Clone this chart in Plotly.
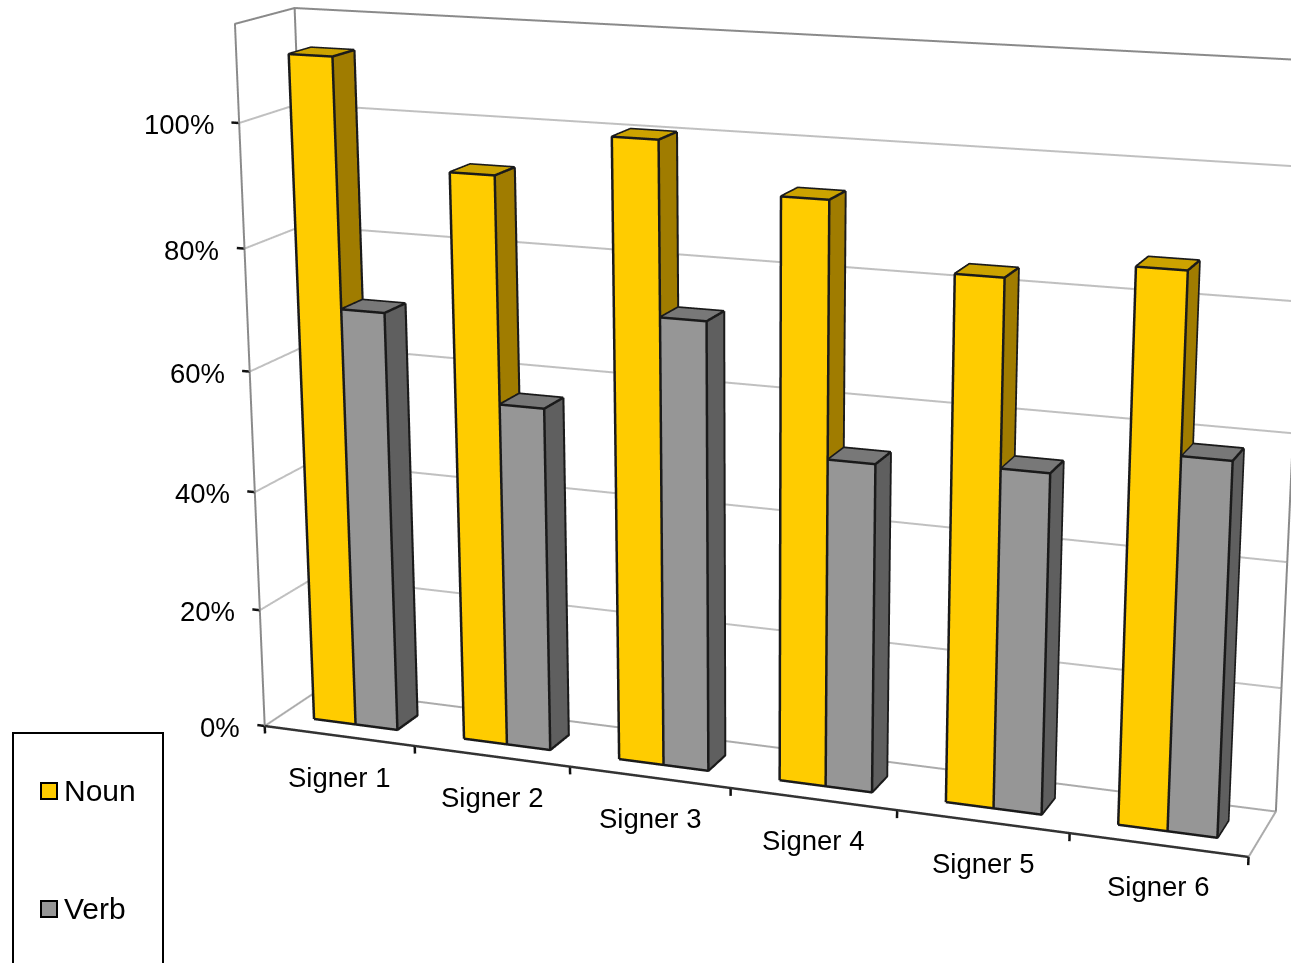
import numpy as np
import plotly.graph_objects as go

categories = ["Signer 1", "Signer 2", "Signer 3", "Signer 4", "Signer 5", "Signer 6"]
noun_values = [110.3, 93.3, 100.5, 93.1, 83.3, 86.4]
verb_values = [70, 56.8, 73, 53, 54.2, 58.7]
pct_ticks = [0, 20, 40, 60, 80, 100]
pct_top = 115.5

W, H = 1291, 963
EYE_DIST = 1.5

# Scene position of (category, depth, pct / 100, 1); the rows give x, y and z.
SCENE_BASIS = np.array([
    [0.2109925, 0.0616033, -0.007384, -0.5220627],
    [-0.0266229, 0.0514349, -0.0790958, 0.0936992],
    [-0.0213193, 0.0414221, 0.8023255, -0.3352427],
])


def to_scene(u, v, w, lift=0.0):
    p = SCENE_BASIS @ np.array([u, v, w / 100, 1.0])
    if lift:
        # Slide along the view ray so outlines stay in front of their faces.
        eye = np.array([0, -EYE_DIST, 0])
        p = eye + (p - eye) * (1 - lift)
    return p


def line_trace(segments, color, width, lift=0.0):
    xs, ys, zs = [], [], []
    for seg in segments:
        for pt in seg:
            p = to_scene(*pt, lift=lift)
            xs.append(p[0]); ys.append(p[1]); zs.append(p[2])
        xs.append(None); ys.append(None); zs.append(None)
    return go.Scatter3d(x=xs, y=ys, z=zs, mode="lines", line=dict(color=color, width=width),
                        hoverinfo="skip", showlegend=False)


def bar_trace(u0, u1, v0, v1, top, colors):
    corners = [(u0, v0, 0), (u1, v0, 0), (u1, v0, top), (u0, v0, top),
               (u0, v1, 0), (u1, v1, 0), (u1, v1, top), (u0, v1, top)]
    pts = np.array([to_scene(*c) for c in corners])
    tris = [(0, 1, 2), (0, 2, 3), (3, 2, 6), (3, 6, 7), (1, 5, 6), (1, 6, 2)]
    return go.Mesh3d(x=pts[:, 0], y=pts[:, 1], z=pts[:, 2],
                     i=[t[0] for t in tris], j=[t[1] for t in tris], k=[t[2] for t in tris],
                     facecolor=[colors[0]] * 2 + [colors[1]] * 2 + [colors[2]] * 2, flatshading=True,
                     lighting=dict(ambient=1, diffuse=0, specular=0, fresnel=0, roughness=1),
                     hoverinfo="skip", showlegend=False)


def bar_edges(u0, u1, v0, v1, top):
    return [
        [(u0, v0, 0), (u1, v0, 0), (u1, v0, top), (u0, v0, top), (u0, v0, 0)],
        [(u0, v0, top), (u0, v1, top), (u1, v1, top), (u1, v0, top)],
        [(u1, v0, 0), (u1, v1, 0), (u1, v1, top)],
    ]


NOUN = ("#FFCC00", "#CCA300", "#A07C00")
VERB = ("#969696", "#787878", "#5F5F5F")
V0, V1 = 0.30, 0.68
traces = []

# Walls, floor and gridlines
grid = [[(0, 0, t), (0, 1, t), (6, 1, t)] for t in pct_ticks[1:]]
traces.append(line_trace(grid, "#C0C0C0", 4))
traces.append(line_trace([[(0, 1, 0), (6, 1, 0)], [(0, 0, 0), (0, 1, 0)], [(6, 0, 0), (6, 1, 0)]], "#ABABAB", 4))
traces.append(line_trace([[(0, 0, 0), (0, 0, pct_top), (0, 1, pct_top), (6, 1, pct_top), (6, 1, 0)],
                          [(0, 1, 0), (0, 1, pct_top)]], "#8A8A8A", 4))
traces.append(line_trace([[(0, 0, 0), (6, 0, 0)]], "#333333", 5))

# Axis ticks
ticks = [[(0, 0, t), (-0.05, 0, t)] for t in pct_ticks] + [[(i, 0, 0), (i, 0, -1.3)] for i in range(7)]
traces.append(line_trace(ticks, "#111111", 5))

# Bars
for i in range(len(categories)):
    traces.append(bar_trace(i + .22, i + .5, V0, V1, noun_values[i], NOUN))
    traces.append(bar_trace(i + .5, i + .78, V0, V1, verb_values[i], VERB))
    traces.append(line_trace(bar_edges(i + .22, i + .5, V0, V1, noun_values[i]), "#1A1A1A", 5, 0.0006))
    traces.append(line_trace(bar_edges(i + .5, i + .78, V0, V1, verb_values[i]), "#1A1A1A", 5, 0.0006))

LABEL_FONT = dict(family="Liberation Sans", size=27.5, color="#000")
annos = []
for t in pct_ticks:
    p = to_scene(0, 0, t)
    annos.append(dict(x=p[0], y=p[1], z=p[2], text=f"{t}%", showarrow=False, xanchor="right",
                      yanchor="middle", xshift=-23, yshift=-1.5, font=LABEL_FONT))
for i, c in enumerate(categories):
    p = to_scene(i + .5, 0, 0)
    annos.append(dict(x=p[0], y=p[1], z=p[2], text=c, showarrow=False, xanchor="center",
                      yanchor="middle", xshift=0, yshift=-41.5, font=LABEL_FONT))

R = 1.5
hidden = dict(visible=False, range=[-R, R], autorange=False)
LEGEND_FONT = dict(family="Liberation Sans", size=30, color="#000")
fig = go.Figure(traces)
fig.update_layout(
    width=W, height=H, margin=dict(l=0, r=0, t=0, b=0), paper_bgcolor="white", showlegend=False,
    scene=dict(domain=dict(x=[0, 1], y=[0, 1]), xaxis=hidden, yaxis=hidden, zaxis=hidden,
               aspectmode="manual", aspectratio=dict(x=2 * R, y=2 * R, z=2 * R),
               camera=dict(eye=dict(x=0, y=-EYE_DIST, z=0), center=dict(x=0, y=0, z=0), up=dict(x=0, y=0, z=1)),
               annotations=annos),
    shapes=[
        dict(type="rect", xref="paper", yref="paper", x0=13 / W, x1=163 / W, y0=-0.01, y1=1 - 733 / H,
             line=dict(color="#000", width=2), fillcolor="white"),
        dict(type="rect", xref="paper", yref="paper", x0=41 / W, x1=57 / W, y0=1 - 799 / H, y1=1 - 783 / H,
             line=dict(color="#000", width=2), fillcolor=NOUN[0]),
        dict(type="rect", xref="paper", yref="paper", x0=41 / W, x1=57 / W, y0=1 - 917 / H, y1=1 - 901 / H,
             line=dict(color="#000", width=2), fillcolor=VERB[0]),
    ],
    annotations=[
        dict(xref="paper", yref="paper", x=62 / W, y=1 - 790 / H, text="Noun", showarrow=False,
             xanchor="left", yanchor="middle", font=LEGEND_FONT),
        dict(xref="paper", yref="paper", x=62 / W, y=1 - 908 / H, text="Verb", showarrow=False,
             xanchor="left", yanchor="middle", font=LEGEND_FONT),
    ],
)
fig.write_html("out.html")
